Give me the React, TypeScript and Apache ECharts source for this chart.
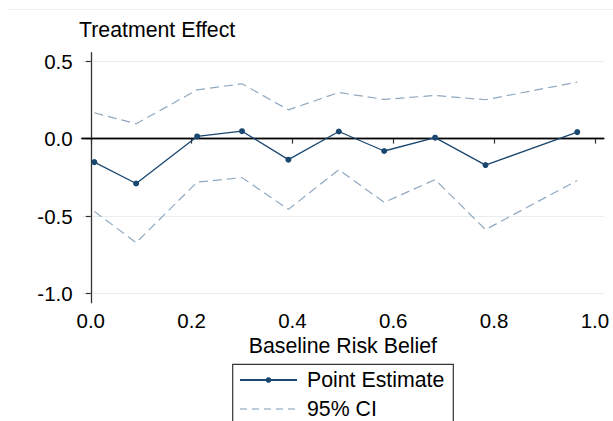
import React, { useEffect, useRef } from "react";
import * as echarts from "echarts";

const xValues = [0.007, 0.09, 0.211, 0.3, 0.392, 0.492, 0.582, 0.683, 0.783, 0.965];
const pointEstimate = [-0.152, -0.29, 0.014, 0.048, -0.136, 0.046, -0.08, 0.006, -0.171, 0.042];
const upperCI = [0.167, 0.096, 0.315, 0.354, 0.186, 0.298, 0.253, 0.279, 0.251, 0.365];
const lowerCI = [-0.47, -0.672, -0.281, -0.252, -0.457, -0.201, -0.412, -0.265, -0.588, -0.27];
const xTicks = [0, 0.2, 0.4, 0.6, 0.8, 1.0];
const yTicks = [-1.0, -0.5, 0, 0.5];

const FONT = "'Liberation Sans', Arial, sans-serif";
const FS = 20.5;
const FS_T = 21.3;
const NAVY = "#1a476f";
const CI_COLOR = "#90a8c0";

export default function App() {
  const ref = useRef<HTMLDivElement>(null);
  useEffect(() => {
    document.body.style.margin = "0";
    const chart = echarts.init(ref.current!, undefined, { renderer: "svg" });
    const pair = (ys: number[]) => xValues.map((x, i) => [x, ys[i]]);
    chart.setOption({
      animation: false,
      backgroundColor: "#fff",
      textStyle: { fontFamily: FONT },
      title: {
        text: "Treatment Effect",
        left: 79,
        top: 19,
        padding: 0,
        textStyle: { fontFamily: FONT, fontSize: FS_T, fontWeight: "normal", color: "#000" },
      },
      graphic: [
        {
          type: "line",
          shape: { x1: 8, y1: 9.5, x2: 613, y2: 9.5 },
          style: { stroke: "#eef2f4", lineWidth: 1 },
          silent: true,
        },
      ],
      grid: { left: 81.7, right: 9, top: 52.7, bottom: 118.3, containLabel: false },
      xAxis: {
        type: "value",
        min: -0.018,
        max: 1.018,
        name: "Baseline Risk Belief",
        nameLocation: "middle",
        nameGap: 30,
        nameTextStyle: { fontFamily: FONT, fontSize: FS_T, color: "#000" },
        axisLine: { show: true, lineStyle: { color: "#333", width: 1.3 } },
        axisTick: { show: true, length: 5, customValues: xTicks, lineStyle: { color: "#333", width: 1.2 } },
        axisLabel: {
          customValues: xTicks,
          margin: 7,
          fontFamily: FONT,
          fontSize: FS,
          color: "#000",
          formatter: (v: number) => v.toFixed(1),
        },
        splitLine: { show: false },
      },
      yAxis: {
        type: "value",
        min: -1.06,
        max: 0.555,
        axisLine: { show: true, lineStyle: { color: "#333", width: 1.3 } },
        axisTick: { show: true, length: 5, customValues: yTicks, lineStyle: { color: "#333", width: 1.2 } },
        axisLabel: {
          customValues: yTicks,
          margin: 9,
          fontFamily: FONT,
          fontSize: FS,
          color: "#000",
          formatter: (v: number) => v.toFixed(1),
        },
        splitLine: { show: true, lineStyle: { color: "#e6eef1", width: 1 } },
      },
      legend: {
        orient: "vertical",
        left: 232.7,
        top: 364.3,
        height: 120,
        padding: [4.7, 9, 6, 6.3],
        itemGap: 7,
        itemWidth: 57,
        itemHeight: 7,
        borderColor: "#333",
        borderWidth: 1.2,
        borderRadius: 0,
        backgroundColor: "#fff",
        data: [
          { name: "Point Estimate" },
          {
            name: "95% CI",
            itemStyle: { opacity: 0 },
            lineStyle: { color: "#a9bccd", width: 1.5, type: [7, 5] },
          },
        ],
        textStyle: { fontFamily: FONT, fontSize: FS_T, color: "#000", lineHeight: 22, padding: [0, 0, 0, 5] },
      },
      series: [
        {
          name: "95% CI",
          type: "line",
          data: pair(upperCI),
          symbol: "none",
          lineStyle: { color: CI_COLOR, width: 1.2, type: [9, 5] },
          itemStyle: { color: CI_COLOR },
          z: 2,
        },
        {
          name: "95% CI",
          type: "line",
          data: pair(lowerCI),
          symbol: "none",
          lineStyle: { color: CI_COLOR, width: 1.2, type: [9, 5] },
          itemStyle: { color: CI_COLOR },
          z: 2,
        },
        {
          name: "Point Estimate",
          type: "line",
          data: pair(pointEstimate),
          symbol: "circle",
          symbolSize: 6,
          lineStyle: { color: NAVY, width: 1.3 },
          itemStyle: { color: NAVY },
          z: 4,
          markLine: {
            silent: true,
            symbol: "none",
            label: { show: false },
            lineStyle: { color: "#000", width: 1.3, type: "solid" },
            data: [{ yAxis: 0 }],
            z: 3,
          },
        },
      ],
    });
    return () => chart.dispose();
  }, []);
  return <div ref={ref} style={{ width: 613, height: 421 }} />;
}
